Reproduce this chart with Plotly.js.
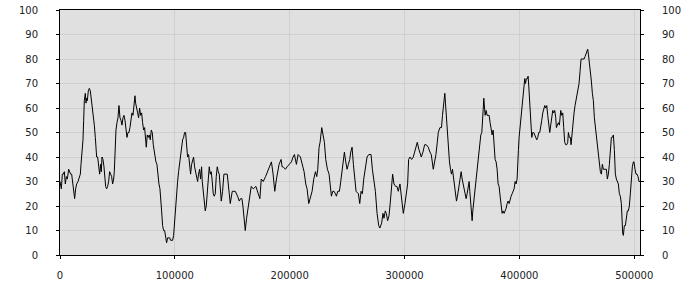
<!DOCTYPE html>
<html>
<head>
<meta charset="utf-8">
<script src="https://cdn.plot.ly/plotly-3.0.1.min.js"></script>
<style>html,body{margin:0;padding:0;background:#fff;}#chart{width:700px;height:300px;}</style>
</head>
<body>
<div id="chart"></div>
<script>
const xValues = [0,1160,2030,2900,3770,4640,5510,6380,7540,8410,9280,10150,11020,11890,12760,13630,14500,15670,16830,17700,18280,19150,20020,20600,21180,22050,22630,23210,23790,24660,25530,26400,27270,28140,29010,29880,30750,31330,31910,32780,33650,34520,35390,35970,36550,37420,38290,38870,39740,40610,41480,42350,43220,44090,44960,45830,46700,47290,47870,48740,49610,50480,51350,52220,53090,53960,54830,55700,56570,57440,58310,59180,60050,60920,61790,62660,63530,64400,65270,65850,66720,67590,68460,69330,70200,71070,71940,72810,73680,74550,75130,76000,76870,77740,78610,79480,80350,81220,81800,82670,83540,84410,85280,86150,87020,87600,88470,89340,90210,91080,91950,92830,93700,94570,95440,96310,97180,98050,98920,99790,100660,101530,102400,103270,104140,105010,105880,106750,107620,108490,109360,110230,111100,111970,112840,113710,114580,115450,116320,117190,118060,118930,119800,120670,121540,122410,123280,123870,124740,125610,126480,127350,128220,129090,129960,130830,131700,132570,133440,134310,135180,136050,136920,137790,138660,
140410,141570,142730,143890,145630,147370,148240,149980,151440,152600,154630,156080,157240,158400,159270,160140,161300,162460,163920,165360,166520,168260,170580,172610,174060,175220,176960,178990,180730,182180,184100,185550,187000,188460,189610,190770,192510,193380,194250,196280,197730,199770,201510,202960,204120,205860,207310,209340,211080,212530,213980,215140,216590,218050,219500,220950,222400,223560,224430,225590,226460,227910,229070,230230,231390,232840,234290,235460,236330,237490,238650,239810,240680,241840,243290,244450,245610,246770,247640,248800,249960,251120,252280,253150,254310,255470,256630,257790,259820,260980,262140,263300,264460,265910,267360,268810,270840,272000,273460,274620,276070,277520,278500,280060,281220,282090,283250,284120,285280,286440,287310,288470,289630,290790,292240,293400,294560,296010,297460,298920,300370,301530,302690,303560,304720,306170,307620,308780,309940,311100,312550,314580,316030,317480,318930,320670,322120,323280,325020,326180,327340,328500,329370,330820,
332170,333040,334200,335070,335650,336520,337390,338260,339130,340000,340870,341740,342610,343480,344350,345220,346090,346960,347830,348700,349290,350160,351030,351900,352770,353640,354510,355380,356250,356830,357700,358280,358860,359440,360310,361180,362050,362920,363790,364660,365530,366400,367270,367850,368430,369010,369590,370170,371040,371910,372780,373650,374520,375390,376260,377130,378000,378870,379740,380610,381480,382350,383220,384090,384960,385830,386700,387570,388440,389310,390180,391050,391920,392790,393660,394530,395400,396270,397140,398010,398590,399170,399750,400620,401490,402360,403230,404100,404680,405260,406130,407000,407580,408160,409030,409900,410770,411640,412510,413380,414250,415120,415990,416860,417730,418600,419470,420340,421210,422080,422950,423820,424690,425560,426430,427300,428170,429040,429910,430780,431650,432230,433100,433970,434840,435420,436000,436870,437740,438610,439480,440350,441220,442090,442670,443540,444410,444990,445860,446730,447600,448470,449340,450210,451080,451950,452820,453690,454560,455430,456300,457170,458040,458910,459490,460070,460940,461810,462680,463550,464420,465290,466160,467030,467900,468770,469640,470510,471380,472250,473120,473990,474860,475730,476600,477470,478340,479210,480080,480950,481820,482690,483560,484430,485300,486170,487040,487910,488780,489360,489940,490520,491390,492260,493130,494000,494870,495740,496610,497480,498350,499220,499800,500670,501540,502410,503280,504150,505020];

const yValues = [30,27,33,33,34,29,32,31,35,34,33,33,30,25,23,27,29,30,32,33,37,42,47,55,63,66,62,64,63,67,68,67,64,60,57,53,48,42,40,40,37,33,37,34,40,39,36,31,28,27,28,30,34,33,32,29,31,34,43,51,54,56,61,56,55,53,56,57,55,52,48,50,50,52,55,58,57,60,65,62,59,58,56,60,57,58,54,51,52,48,44,49,48,49,47,51,50,45,43,40,38,37,32,29,27,21,18,12,10,10,8,5,7,7,7,6,6,6,8,14,21,25,30,34,37,40,45,47,48,50,50,43,40,41,38,33,37,39,40,36,34,33,30,33,35,31,36,30,25,22,18,20,27,30,36,33,34,30,25,24,25,32,36,34,33,
22,26,33,33,33,25,21,26,26,26,24,22,23,23,20,16,10,15,20,23,28,27,28,25,23,31,30,32,34,36,38,33,26,31,35,37,39,36,36,35,36,37,38,40,41,37,41,40,36,34,29,27,21,24,26,31,34,32,35,44,46,52,49,46,39,35,33,29,24,26,26,25,24,26,26,30,35,40,42,38,35,37,39,42,44,37,32,26,25,21,26,25,31,36,40,41,41,35,30,26,17,12,11,13,17,15,18,17,14,16,20,28,33,29,28,28,26,29,23,17,21,25,29,39,40,39,40,42,44,46,43,40,42,45,45,44,42,41,35,38,41,46,50,52,
52,57,62,66,62,55,49,43,38,35,33,35,31,28,24,22,24,27,29,31,34,31,29,27,26,23,25,28,30,26,22,18,14,18,22,27,30,33,38,42,46,49,50,53,59,64,60,57,59,57,57,57,54,52,49,51,46,39,38,35,29,28,24,20,17,18,17,18,19,21,22,21,23,24,25,26,27,30,29,31,35,43,48,52,57,61,65,70,72,70,72,72,73,69,61,52,48,50,50,49,48,47,48,50,50,52,55,58,60,61,60,61,57,53,50,53,57,59,58,59,56,52,53,54,53,57,59,57,58,52,46,45,45,46,50,48,48,45,50,53,58,61,63,65,68,70,75,80,80,80,80,81,82,83,84,82,79,75,71,66,63,56,52,48,44,40,35,34,33,37,35,35,35,35,31,33,37,44,48,48,49,43,33,31,30,29,25,24,21,14,9,8,12,12,16,18,18,20,25,31,36,38,38,35,33,33,32,30,30];

const yTicks = [0,10,20,30,40,50,60,70,80,90,100];
const xTicks = [0,100000,200000,300000,400000,500000];

const tickFont = {family: 'DejaVu Sans, sans-serif', size: 10, color: '#222'};

const traces = [
  {x: xValues, y: yValues, type: 'scatter', mode: 'lines',
   line: {color: '#000', width: 1}, hoverinfo: 'skip', showlegend: false},
  {x: xValues, y: yValues, type: 'scatter', mode: 'lines', yaxis: 'y2',
   line: {color: 'rgba(0,0,0,0)', width: 0}, hoverinfo: 'skip', showlegend: false}
];

const layout = {
  width: 700, height: 300,
  margin: {l: 60, r: 60, t: 10, b: 45, pad: 0},
  paper_bgcolor: '#ffffff',
  plot_bgcolor: '#e0e0e0',
  showlegend: false,
  xaxis: {
    range: [0, 505020], tickvals: xTicks, ticktext: xTicks.map(String),
    showgrid: true, gridcolor: '#cfcfcf', gridwidth: 1, zeroline: false,
    showline: true, linecolor: '#000', linewidth: 1, mirror: true,
    ticks: 'outside', ticklen: 3, tickcolor: '#000', tickfont: tickFont,
    ticklabelstandoff: 8
  },
  yaxis: {
    range: [0, 100], tickvals: yTicks,
    showgrid: true, gridcolor: '#cfcfcf', gridwidth: 1, zeroline: false,
    showline: true, linecolor: '#000', linewidth: 1, mirror: true,
    ticks: 'outside', ticklen: 3, tickcolor: '#000', tickfont: tickFont,
    ticklabelstandoff: 16
  },
  yaxis2: {
    range: [0, 100], tickvals: yTicks, overlaying: 'y', side: 'right',
    showgrid: false, zeroline: false, showline: false,
    ticks: 'outside', ticklen: 3, tickcolor: '#000', tickfont: tickFont,
    ticklabelstandoff: 16
  }
};

Plotly.newPlot('chart', traces, layout, {staticPlot: true, displayModeBar: false});
</script>
</body>
</html>
